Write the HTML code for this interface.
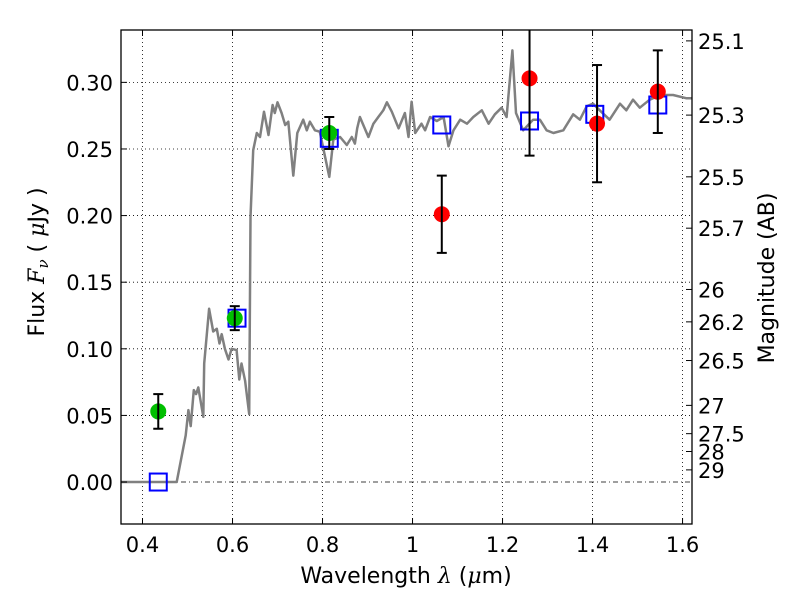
<!DOCTYPE html>
<html><head><meta charset="utf-8"><style>
body{margin:0;background:#fff;}
svg{display:block;font-family:"DejaVu Sans","Liberation Sans",sans-serif;}
</style></head><body>
<svg id="chart" width="800" height="600" viewBox="0 0 800 600" xmlns="http://www.w3.org/2000/svg"></svg>
<script>
const xTicks=[0.4,0.6,0.8,1.0,1.2,1.4,1.6];
const xTickLabels=["0.4","0.6","0.8","1","1.2","1.4","1.6"];
const yTicks=[0,0.05,0.10,0.15,0.20,0.25,0.30];
const yTickLabels=["0.00","0.05","0.10","0.15","0.20","0.25","0.30"];
const magTicks=[25.1,25.3,25.5,25.7,26,26.2,26.5,27,27.5,28,29];
const magTickLabels=["25.1","25.3","25.5","25.7","26","26.2","26.5","27","27.5","28","29"];
const specLam=[0.35,0.476,0.496,0.502,0.507,0.514,0.519,0.524,0.535,0.537,0.548,0.557,0.565,0.571,0.576,0.583,0.591,0.598,0.609,0.615,0.620,0.628,0.637,0.640,0.646,0.654,0.661,0.670,0.680,0.689,0.694,0.700,0.709,0.717,0.724,0.735,0.744,0.757,0.765,0.772,0.783,0.794,0.815,0.824,0.839,0.854,0.865,0.872,0.877,0.883,0.902,0.913,0.924,0.935,0.943,0.954,0.969,0.983,0.991,0.998,1.006,1.02,1.028,1.039,1.054,1.069,1.08,1.091,1.106,1.121,1.135,1.154,1.169,1.183,1.198,1.209,1.222,1.23,1.246,1.268,1.283,1.298,1.313,1.335,1.357,1.372,1.387,1.401,1.416,1.438,1.461,1.475,1.49,1.505,1.527,1.55,1.579,1.609,1.639];
const specFlux=[0,0,0.035,0.054,0.042,0.069,0.066,0.071,0.049,0.089,0.13,0.113,0.115,0.104,0.111,0.100,0.092,0.1,0.099,0.077,0.089,0.076,0.051,0.199,0.249,0.262,0.259,0.278,0.2605,0.283,0.277,0.285,0.277,0.268,0.2705,0.230,0.262,0.272,0.264,0.2705,0.264,0.263,0.229,0.257,0.259,0.253,0.259,0.254,0.2655,0.274,0.259,0.269,0.274,0.279,0.285,0.278,0.2655,0.277,0.259,0.2855,0.262,0.269,0.264,0.274,0.271,0.274,0.252,0.264,0.272,0.269,0.274,0.279,0.269,0.276,0.281,0.274,0.324,0.277,0.264,0.272,0.272,0.264,0.262,0.264,0.276,0.272,0.282,0.284,0.279,0.272,0.284,0.279,0.287,0.281,0.287,0.2905,0.2905,0.288,0.288];
const greenLam=[0.435,0.605,0.815];
const greenFlux=[0.053,0.123,0.262];
const greenErr=[0.013,0.009,0.012];
const redLam=[1.065,1.26,1.41,1.545];
const redFlux=[0.201,0.303,0.269,0.293];
const redErr=[0.029,0.058,0.044,0.031];
const blueLam=[0.435,0.61,0.815,1.065,1.26,1.405,1.545];
const blueFlux=[0.0,0.123,0.258,0.268,0.271,0.276,0.283];

const L=121,R=692,T=30,B=524;
const xmin=0.3522,xmax=1.621,ymin=-0.0315,ymax=0.3393;
const X=v=>L+(v-xmin)/(xmax-xmin)*(R-L);
const Y=v=>B-(v-ymin)/(ymax-ymin)*(B-T);
const NS="http://www.w3.org/2000/svg";
const svg=document.getElementById('chart');
function el(tag,attrs,parent){const e=document.createElementNS(NS,tag);for(const k in attrs)e.setAttribute(k,attrs[k]);(parent||svg).appendChild(e);return e;}

const clip=el('clipPath',{id:'pc'});el('rect',{x:L,y:T,width:R-L,height:B-T},clip);

const grid=el('g',{});


xTicks.forEach(v=>{el('line',{x1:X(v),x2:X(v),y1:T,y2:B,stroke:'#000','stroke-width':0.8,'stroke-dasharray':'1,3'},grid);});
yTicks.forEach(v=>{if(v===0)return;el('line',{x1:L,x2:R,y1:Y(v),y2:Y(v),stroke:'#000','stroke-width':0.8,'stroke-dasharray':'1,3'},grid);});
const zl=el('line',{x1:L,x2:R,y1:Y(0),y2:Y(0),stroke:'#000','stroke-width':0.8,'stroke-dasharray':'5,3,1,3'});



let d='';specLam.forEach((l,i)=>{d+=(i?'L':'M')+X(l).toFixed(1)+','+Y(specFlux[i]).toFixed(1);});
const sp=el('path',{d:d,fill:'none',stroke:'#808080','stroke-width':2.5,'clip-path':'url(#pc)','stroke-linejoin':'round'});



blueLam.forEach((l,i)=>{const s=el('rect',{x:X(l)-8.5,y:Y(blueFlux[i])-8.5,width:17,height:17,fill:'none',stroke:'#0000ff','stroke-width':2});

});

function points(lams,fl,er,col,name){lams.forEach((l,i)=>{
 const g=el('g',{'clip-path':'url(#pc)'});
 
 
 const x=X(l),y1=Y(fl[i]+er[i]),y2=Y(fl[i]-er[i]);
 el('circle',{cx:x,cy:Y(fl[i]),r:8,fill:col},g);
 el('line',{x1:x,x2:x,y1:y1,y2:y2,stroke:'#000','stroke-width':2},g);
 el('line',{x1:x-5,x2:x+5,y1:y1,y2:y1,stroke:'#000','stroke-width':2},g);
 el('line',{x1:x-5,x2:x+5,y1:y2,y2:y2,stroke:'#000','stroke-width':2},g);
});}
points(greenLam,greenFlux,greenErr,'#00bf00','green-data-point');
points(redLam,redFlux,redErr,'#ff0000','red-data-point');

const fr=el('rect',{x:L,y:T,width:R-L,height:B-T,fill:'none',stroke:'#000','stroke-width':1.3});



xTicks.forEach((v,i)=>{const x=X(v);
 el('line',{x1:x,x2:x,y1:B,y2:B-6,stroke:'#000'});el('line',{x1:x,x2:x,y1:T,y2:T+6,stroke:'#000'});
 const t=el('text',{x:x,y:B+28,'text-anchor':'middle','font-size':21});t.textContent=xTickLabels[i];
 
 });
yTicks.forEach((v,i)=>{const y=Y(v);
 el('line',{x1:L,x2:L+6,y1:y,y2:y,stroke:'#000'});
 const t=el('text',{x:L-8,y:y+8,'text-anchor':'end','font-size':21});t.textContent=yTickLabels[i];
 
 });
magTicks.forEach((m,i)=>{const y=Y(Math.pow(10,(23.9-m)/2.5));
 el('line',{x1:R,x2:R-6,y1:y,y2:y,stroke:'#000'});
 const t=el('text',{x:R+6,y:y+8,'font-size':21});t.textContent=magTickLabels[i];
 
 });

function tx(str,attrs,name){const t=document.createElementNS(NS,'text');for(const k in attrs)t.setAttribute(k,attrs[k]);t.innerHTML=str;


svg.appendChild(t);}
tx('Wavelength  <tspan font-style="italic" font-family="DejaVu Serif, serif">λ</tspan> (<tspan font-style="italic" font-family="DejaVu Serif, serif">μ</tspan>m)',{x:406,y:583,'text-anchor':'middle','font-size':22},'x-axis-title');
tx('Flux  <tspan font-style="italic" font-family="DejaVu Serif, serif">F<tspan font-size="15" dy="4">ν</tspan></tspan><tspan dy="-4">  (  </tspan><tspan font-style="italic" font-family="DejaVu Serif, serif">μ</tspan>Jy )',{x:0,y:0,'text-anchor':'middle','font-size':22,transform:'translate(44,262) rotate(-90)'},'y-axis-title');
tx('Magnitude (AB)',{x:0,y:0,'text-anchor':'middle','font-size':22,transform:'translate(774,278) rotate(-90)'},'magnitude-axis-title');
</script>
</body></html>
